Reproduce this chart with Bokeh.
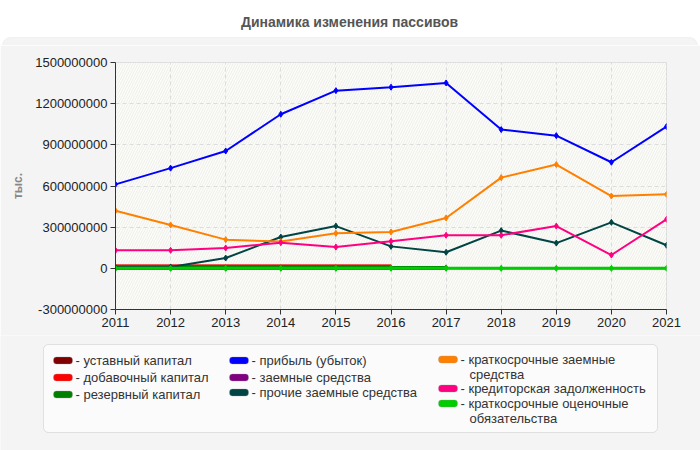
import math
from bokeh.plotting import figure
from bokeh.layouts import column
from bokeh.models import (Range1d, FixedTicker, PrintfTickFormatter, Label, BoxAnnotation)
from bokeh.embed import file_html
from bokeh.resources import INLINE

# ---------------- data ----------------
years = [2011, 2012, 2013, 2014, 2015, 2016, 2017, 2018, 2019, 2020, 2021]
nan = float("nan")
M = 1_000_000
ustavny = [12*M, 12*M, 12*M, 12*M, 12*M, 12*M, nan, nan, nan, nan, nan]
dobavochny = [14*M, 14*M, 14*M, 14*M, 14*M, 14*M, nan, nan, nan, nan, nan]
rezervny = [3*M, 3*M, 3*M, 3*M, 3*M, 3*M, 3*M, nan, nan, nan, nan]
pribyl = [612*M, 730*M, 855*M, 1123*M, 1295*M, 1320*M, 1351*M, 1011*M, 967*M, 773*M, 1033*M]
zaemnye = [0, 0, 0, 0, 0, 0, 0, 0, 0, 0, 0]
prochie = [8*M, 10*M, 75*M, 228*M, 308*M, 160*M, 117*M, 275*M, 184*M, 335*M, 168*M]
kratkosrochnye = [420*M, 316*M, 209*M, 195*M, 255*M, 265*M, 367*M, 661*M, 756*M, 527*M, 539*M]
kreditorskaya = [131*M, 131*M, 148*M, 187*M, 155*M, 197*M, 241*M, 241*M, 308*M, 97*M, 357*M]
ocenochnye = [0, 0, 0, 0, 0, 0, 0, 0, 0, 0, 0]

y_ticks = [-300000000, 0, 300000000, 600000000, 900000000, 1200000000, 1500000000]

title_text = "Динамика изменения пассивов"
y_label = "тыс."
names = ["уставный капитал", "добавочный капитал", "резервный капитал",
         "прибыль (убыток)", "заемные средства", "прочие заемные средства",
         "краткосрочные заемные\nсредства", "кредиторская задолженность",
         "краткосрочные оценочные\nобязательства"]
series = [ustavny, dobavochny, rezervny, pribyl, zaemnye, prochie,
          kratkosrochnye, kreditorskaya, ocenochnye]
colors = ["#800000", "#ff0000", "#008000", "#0000ff", "#800080", "#004444",
          "#ff8000", "#ff0080", "#00cc00"]
widths = [4, 4, 4, 2, 2, 2, 2, 2, 3]
markers_on = [False, False, True, True, False, True, True, True, True]

# ---------------- layout ----------------
W = 700
FONT = "Liberation Sans"
PANEL = "#f4f4f4"
H_TOP, H_MAIN, H_LEG = 45, 290, 115
L, R, T, B = 115, 666, 62, 309   # frame in page coordinates


def blank(h, y0):
    f = figure(width=W, height=h, output_backend="svg", toolbar_location=None,
               x_range=Range1d(0, W), y_range=Range1d(y0 + h, y0),
               x_axis_type=None, y_axis_type=None,
               min_border=0, min_border_left=0, min_border_right=0,
               min_border_top=0, min_border_bottom=0, frame_align=False)
    f.outline_line_color = None
    f.border_fill_color = PANEL
    f.background_fill_color = PANEL
    return f


# --- top strip: title + panel's top edge
ptop = blank(H_TOP, 0)
ptop.background_fill_color = "white"
ptop.border_fill_color = "white"
ptop.add_layout(BoxAnnotation(left=2, right=697, top=37, bottom=80,
                              fill_color=PANEL, fill_alpha=1, line_color="#dddddd",
                              line_width=1, border_radius=8))
ptop.add_layout(Label(x=349, y=21, text=title_text, text_align="center",
                      text_baseline="middle", text_font=FONT, text_font_style="bold",
                      text_font_size="14px", text_color="#555555"))

# --- main chart
p = figure(width=W, height=H_MAIN, output_backend="svg", toolbar_location=None,
           x_range=Range1d(2011, 2021), y_range=Range1d(-300000000, 1500000000),
           min_border_left=L, min_border_right=W - R,
           min_border_top=T - H_TOP, min_border_bottom=H_TOP + H_MAIN - B,
           frame_align=False)
p.border_fill_color = PANEL
p.background_fill_color = "#fdfdf7"
p.outline_line_color = "#dddddd"

hatch = BoxAnnotation(fill_color=None, fill_alpha=0, line_color=None,
                      hatch_pattern="/", hatch_color="#ededed", hatch_alpha=1,
                      hatch_scale=5, hatch_weight=1, level="underlay")
p.center = [hatch] + list(p.center)

p.xaxis.ticker = FixedTicker(ticks=years)
p.yaxis.ticker = FixedTicker(ticks=y_ticks)
p.yaxis.formatter = PrintfTickFormatter(format="%d")
for ax in (p.xaxis[0], p.yaxis[0]):
    ax.axis_line_color = "#333333"
    ax.major_tick_line_color = "#333333"
    ax.major_tick_out = 5
    ax.major_tick_in = 0
    ax.minor_tick_line_color = None
    ax.major_label_text_font = FONT
    ax.major_label_text_font_size = "13px"
    ax.major_label_text_color = "#222222"
p.xaxis.major_label_standoff = 3
p.yaxis.major_label_standoff = 3
p.yaxis.axis_label = y_label
p.yaxis.axis_label_text_font = FONT
p.yaxis.axis_label_text_font_style = "bold"
p.yaxis.axis_label_text_font_size = "12px"
p.yaxis.axis_label_text_color = "#888888"
p.yaxis.axis_label_standoff = 7

for g in (p.xgrid[0], p.ygrid[0]):
    g.grid_line_color = "#dcdcdc"
    g.grid_line_dash = "4 3"

for s, c, w, mk in zip(series, colors, widths, markers_on):
    p.line(years, s, line_color=c, line_width=w)
    if mk:
        p.scatter(years, s, marker="diamond", size=6, fill_color=c, line_color=c)

# --- legend strip
y0 = H_TOP + H_MAIN
pleg = blank(H_LEG, y0)
pleg.add_layout(BoxAnnotation(left=43, right=657, top=344, bottom=432,
                              fill_color="#fbfbfb", fill_alpha=1, line_color="#aaaaaa",
                              line_width=1, border_radius=5))
slots = [(53, 75, 360), (53, 75, 377), (53, 75, 394),
         (229, 251, 360), (229, 251, 377), (229, 251, 392),
         (438, 460, 359), (438, 460, 388), (438, 460, 403)]
for name, c, (swx, tx, ry) in zip(names, colors, slots):
    pleg.add_layout(BoxAnnotation(left=swx, right=swx + 19, top=ry - 3.5, bottom=ry + 3.5,
                                  fill_color=c, fill_alpha=1, line_color="#999999",
                                  line_width=1, border_radius=3))
    for i, ln in enumerate(name.split("\n")):
        pleg.add_layout(Label(x=tx if i == 0 else tx + 9, y=ry + i * 14.5,
                              text=("- " + ln) if i == 0 else ln,
                              text_align="left", text_baseline="middle",
                              text_font=FONT, text_font_size="13px",
                              text_color="#333333"))

layout = column(ptop, p, pleg, spacing=0)
open("out.html", "w").write(file_html(layout, INLINE))
